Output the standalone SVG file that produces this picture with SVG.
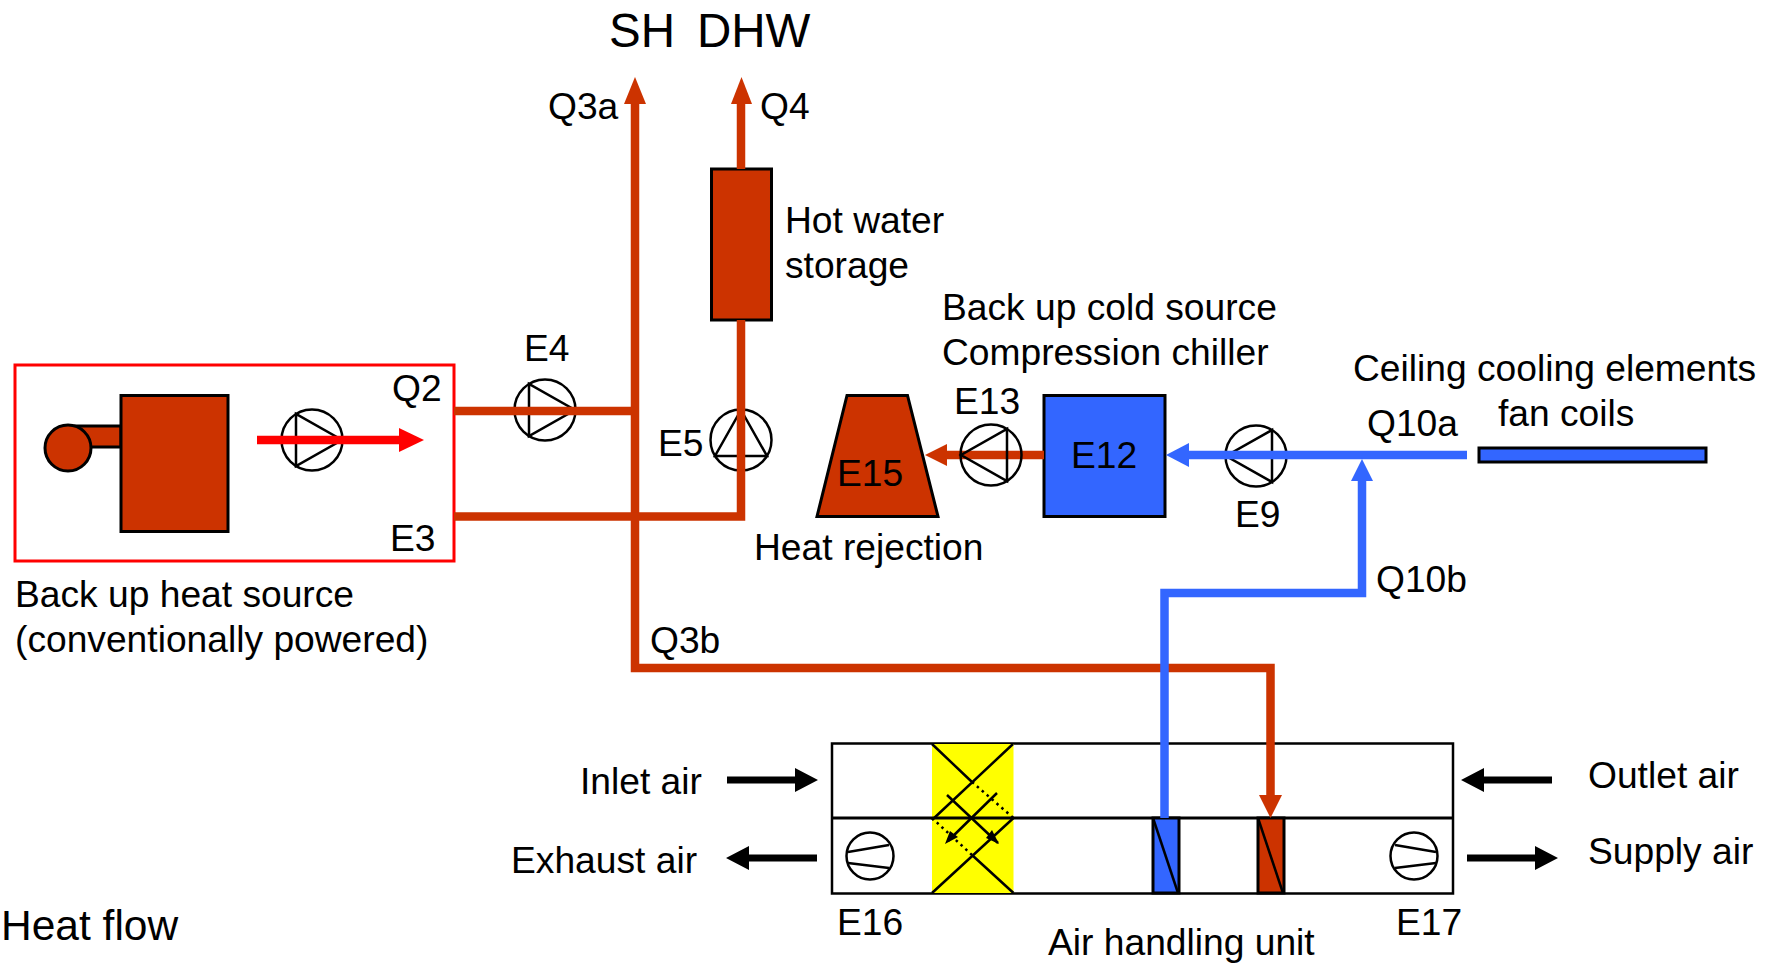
<svg xmlns="http://www.w3.org/2000/svg" width="1775" height="963" viewBox="0 0 1775 963">
<style>
text{font-family:"Liberation Sans",Arial,sans-serif;font-size:37.200px;fill:#000}
.big{font-size:47.500px}
.red{fill:#cc3300;stroke:#000;stroke-width:3}
.blue{fill:#3366ff;stroke:#000;stroke-width:3}
.pr{fill:none;stroke:#cc3300;stroke-width:8.500}
.pb{fill:none;stroke:#3366ff;stroke-width:8.500}
.ln{fill:none;stroke:#000;stroke-width:2.500}
.pump{fill:none;stroke:#000;stroke-width:2.500}
.air{fill:none;stroke:#000;stroke-width:7}
.hr{fill:#cc3300}.hb{fill:#3366ff}.hk{fill:#000}
</style>
<defs>
<g id="pump"><circle r="30.500" class="pump"/><path d="M-16,-26V26L30,0Z" class="pump"/></g>
<g id="fan"><circle r="23.500" class="pump"/><path d="M-22,-4L19,-11M-22,7L19,12" class="pump"/></g>
</defs>
<g id="heat-source">
<rect x="15" y="365" width="439" height="196" fill="none" stroke="#ff0000" stroke-width="3"/>
<rect x="75" y="426" width="46" height="21" class="red"/>
<rect x="121" y="395.500" width="107" height="136" class="red"/>
<circle cx="68" cy="448" r="23" class="red"/>
<use href="#pump" x="312" y="440"/>
<path d="M257,440H401" stroke="#ff0000" stroke-width="8.500" fill="none"/>
<path d="M424,440L399,428V452Z" fill="#ff0000"/>
<text x="392" y="401">Q2</text>
<text x="390" y="551">E3</text>
<text x="15" y="607">Back up heat source</text>
<text x="15" y="652">(conventionally powered)</text>
</g>
<g id="pump-e4"><use href="#pump" x="545" y="410"/><text x="524" y="361">E4</text></g>
<g id="pump-e5"><use href="#pump" transform="translate(741,440) rotate(-90)"/><text x="658" y="456">E5</text></g>
<g id="storage">
<rect x="711.500" y="169" width="60" height="151" class="red"/>
<text x="785" y="233">Hot water</text>
<text x="785" y="278">storage</text>
</g>
<g id="e15">
<path d="M847,395.500H907.500L938,516.500H817Z" class="red"/>
<text x="837" y="486">E15</text>
<text x="754" y="560">Heat rejection</text>
</g>
<g id="e12">
<rect x="1044" y="395.500" width="121" height="121" class="blue"/>
<text x="1071" y="468">E12</text>
<text x="942" y="320">Back up cold source</text>
<text x="942" y="365">Compression chiller</text>
</g>
<g id="pump-e9"><use href="#pump" transform="translate(1256,456) rotate(180)"/><text x="1235" y="527">E9</text></g>
<g id="cooling">
<rect x="1479" y="448" width="227" height="14" class="blue"/>
<text x="1353" y="381">Ceiling cooling elements</text>
<text x="1498" y="426">fan coils</text>
</g>
<g id="ahu">
<rect x="832" y="743.500" width="621" height="150" fill="#fff" stroke="#000" stroke-width="2.500"/>
<rect x="932" y="744" width="81.500" height="149" fill="#ffff00"/>
<path d="M832,818H1453" stroke="#000" stroke-width="3"/>
<g id="exchanger" fill="none" stroke="#000" stroke-width="2.500">
<path d="M932,744L972,782M1013,744L932,820M947,795L998,843M997,793L948,841M932,893L1013.500,818M972,855L1013.500,893"/>
<path d="M972,782L1013.500,818M932,818L972,855" stroke-dasharray="2.500 4"/>
</g>
<path class="hk" d="M945,844L950,831L958,837Z M999,844L986,838L992,830Z"/>
<rect x="1153" y="818" width="26" height="75" class="blue"/>
<path d="M1153,818L1178,893" class="ln"/>
<rect x="1258" y="818" width="26" height="75" class="red"/>
<path d="M1258,818L1283,893" class="ln"/>
<use href="#fan" x="870" y="856"/>
<use href="#fan" transform="translate(1414,856) scale(-1,1)"/>
<text x="580" y="794">Inlet air</text>
<text x="511" y="873">Exhaust air</text>
<text x="1588" y="788">Outlet air</text>
<text x="1588" y="864">Supply air</text>
<text x="837" y="935">E16</text>
<text x="1396" y="935">E17</text>
<text x="1048" y="955">Air handling unit</text>
</g>
<g id="connectors">
<path class="pr" d="M635,96V668H1270.500V796"/>
<path class="hr" d="M635,77L646,104H624Z"/>
<path class="hr" d="M1270.500,818L1259,795H1282Z"/>
<path class="pr" d="M741,96V169"/>
<path class="hr" d="M741.500,77L752,104H731Z"/>
<path class="pr" d="M741,320V516.500H454"/>
<path class="pr" d="M454,411H635"/>
<path class="pr" d="M1044,455H945"/>
<path class="hr" d="M925,455L947,444V466Z"/>
<path class="pb" d="M1467,455H1187"/>
<path class="hb" d="M1166,455L1189,443V467Z"/>
<path class="pb" d="M1164.500,818V593H1362V480"/>
<path class="hb" d="M1362,459L1373,481H1351Z"/>
</g>
<g id="pump-e13"><use href="#pump" transform="translate(991,455) rotate(180)"/><text x="954" y="414">E13</text></g>
<g id="air-arrows">
<path class="air" d="M727,780H800M817,858H742M1552,780H1478M1467,858H1540"/>
<path class="hk" d="M818,780L795,768V792Z M726,858L749,846V870Z M1461,780L1484,768V792Z M1558,858L1535,846V870Z"/>
</g>
<g id="labels">
<text class="big" x="609" y="47">SH</text>
<text class="big" x="697" y="47">DHW</text>
<text x="548" y="119">Q3a</text>
<text x="760" y="119">Q4</text>
<text x="650" y="653">Q3b</text>
<text x="1367" y="436">Q10a</text>
<text x="1376" y="592">Q10b</text>
<text x="1" y="940" style="font-size:42.500px">Heat flow</text>
</g>
</svg>
